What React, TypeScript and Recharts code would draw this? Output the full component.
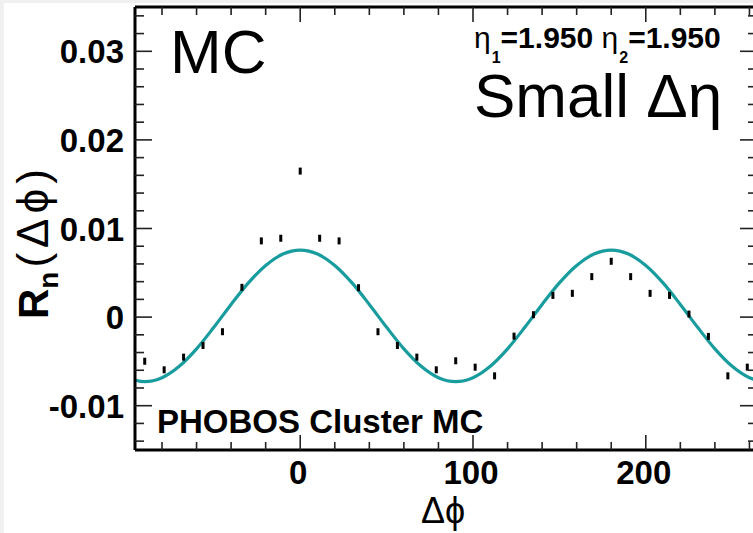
import React from 'react';
import { ComposedChart, Line, Scatter, XAxis, YAxis } from 'recharts';

// MC points (bin centres in degrees)
const pointPhi = [
  -90, -78.75, -67.5, -56.25, -45, -33.75, -22.5, -11.25, 0, 11.25, 22.5, 33.75, 45, 56.25, 67.5, 78.75,
  90, 101.25, 112.5, 123.75, 135, 146.25, 157.5, 168.75, 180, 191.25, 202.5, 213.75, 225, 236.25, 247.5, 258.75,
];
const pointR = [
  -0.00498, -0.00595, -0.00452, -0.0032, -0.00165, 0.00336, 0.0086, 0.0089, 0.01648, 0.0089, 0.0086, 0.00332,
  -0.00165, -0.0032, -0.00452, -0.00595, -0.00493, -0.00565, -0.00663, -0.00215, 0.00027, 0.00245, 0.00268,
  0.00457, 0.0063, 0.00457, 0.00268, 0.00245, 0.00034, -0.00218, -0.00663, -0.00565,
];

// fit curve, read at 10 degree steps
const fitPhi = [
  -100, -90, -80, -70, -60, -50, -40, -30, -20, -10, 0, 10, 20, 30, 40, 50, 60, 70, 80, 90, 100, 110, 120,
  130, 140, 150, 160, 170, 180, 190, 200, 210, 220, 230, 240, 250, 260, 270,
];
const fitR = [
  -0.00684, -0.00729, -0.00684, -0.00555, -0.00358, -0.00115, 0.00143, 0.00386, 0.00583, 0.00712, 0.00757,
  0.00712, 0.00583, 0.00386, 0.00143, -0.00115, -0.00358, -0.00555, -0.00684, -0.00729, -0.00684, -0.00555,
  -0.00358, -0.00115, 0.00143, 0.00386, 0.00583, 0.00712, 0.00757, 0.00712, 0.00583, 0.00386, 0.00143,
  -0.00115, -0.00358, -0.00555, -0.00684, -0.00729,
];

const xTicks = [-80, -60, -40, -20, 0, 20, 40, 60, 80, 100, 120, 140, 160, 180, 200, 220, 240, 260];
const xMajorTicks = [0, 100, 200];
const xTickLabels = ['0', '100', '200'];
const yTicks = [
  -0.014, -0.012, -0.01, -0.008, -0.006, -0.004, -0.002, 0, 0.002, 0.004, 0.006, 0.008, 0.01, 0.012, 0.014,
  0.016, 0.018, 0.02, 0.022, 0.024, 0.026, 0.028, 0.03, 0.032, 0.034,
];
const yMajorTicks = [-0.01, 0, 0.01, 0.02, 0.03];
const yTickLabels = ['-0.01', '0', '0.01', '0.02', '0.03'];

const pointData = pointPhi.map((phi, i) => ({ phi, r: pointR[i] }));
const fitData = fitPhi.map((phi, i) => ({ phi, r: fitR[i] }));

const FONT = '"Liberation Sans", Arial, Helvetica, sans-serif';
const TEAL = '#189c9e';
const xDomain = [-95.625, 264.375];
const yDomain = [-0.015, 0.035];

const makeTick = (side: string, majors: number[], labels: string[]) => (props: any) => {
  const { x, y, payload } = props;
  const idx = majors.findIndex((m) => Math.abs(m - payload.value) < 1e-9);
  const major = idx >= 0;
  const vertical = side === 'left' || side === 'right';
  const len = vertical ? (major ? 17 : 9) : major ? 15 : 8;
  let line;
  if (side === 'left') line = <line x1={x} x2={x + len} y1={y} y2={y} />;
  else if (side === 'right') line = <line x1={x} x2={x - len} y1={y} y2={y} />;
  else if (side === 'bottom') line = <line x1={x} x2={x} y1={y} y2={y - len} />;
  else line = <line x1={x} x2={x} y1={y} y2={y + len} />;
  return (
    <g stroke="#222" strokeWidth={1.6}>
      {line}
      {major && side === 'left' && (
        <text x={x - 11} y={y + 12} textAnchor="end" fontFamily={FONT} fontWeight="bold" fontSize={33} fill="#000" stroke="none">
          {labels[idx]}
        </text>
      )}
      {major && side === 'bottom' && (
        <text x={x - 2} y={y + 34} textAnchor="middle" fontFamily={FONT} fontWeight="bold" fontSize={33} fill="#000" stroke="none">
          {labels[idx]}
        </text>
      )}
    </g>
  );
};

const barShape = (p: any) => <rect x={p.cx - 1.5} y={p.cy - 3.5} width={3} height={7} fill="#000" />;

export default function App() {
  const axisLine = { stroke: '#000', strokeWidth: 3 };
  return (
    <div style={{ position: 'absolute', left: 0, top: 0, width: 753, height: 533, overflow: 'hidden', background: '#f0f0f0' }}>
      <div style={{ position: 'absolute', left: 4, top: 3, right: 0, bottom: 0, background: '#fff' }} />
      <div style={{ position: 'absolute', left: 0, top: 0 }}>
        <ComposedChart width={765} height={533} margin={{ top: 6, right: 7, bottom: 82, left: 134 }}>
          <XAxis xAxisId="bottom" type="number" dataKey="phi" orientation="bottom" height={1} domain={xDomain} allowDataOverflow
            ticks={xTicks} interval={0} tickSize={0} tickMargin={0} tickLine={false} axisLine={axisLine}
            tick={makeTick('bottom', xMajorTicks, xTickLabels)} />
          <XAxis xAxisId="top" type="number" dataKey="phi" orientation="top" height={1} domain={xDomain} allowDataOverflow
            ticks={xTicks} interval={0} tickSize={0} tickMargin={0} tickLine={false} axisLine={axisLine}
            tick={makeTick('top', xMajorTicks, xTickLabels)} />
          <YAxis yAxisId="left" type="number" orientation="left" width={1} domain={yDomain} allowDataOverflow
            ticks={yTicks} interval={0} tickSize={0} tickMargin={0} tickLine={false} axisLine={axisLine}
            tick={makeTick('left', yMajorTicks, yTickLabels)} />
          <YAxis yAxisId="right" type="number" orientation="right" width={1} domain={yDomain} allowDataOverflow
            ticks={yTicks} interval={0} tickSize={0} tickMargin={0} tickLine={false} axisLine={axisLine}
            tick={makeTick('right', yMajorTicks, yTickLabels)} />
          <Line xAxisId="bottom" yAxisId="left" data={fitData} dataKey="r" type="monotone" stroke={TEAL} strokeWidth={3.2}
            dot={false} activeDot={false} isAnimationActive={false} />
          <Scatter xAxisId="bottom" yAxisId="left" data={pointData} dataKey="r" shape={barShape} isAnimationActive={false} />
        </ComposedChart>
      </div>
      <svg width={753} height={533} style={{ position: 'absolute', left: 0, top: 0, pointerEvents: 'none' }} fontFamily={FONT}>
        <text x={170} y={73} fontSize={62}>MC</text>
        <text x={474} y={117} fontSize={62}>Small Δη</text>
        <text x={474} y={48} fontSize={30}>
          <tspan>η</tspan>
          <tspan dy={15} dx={1} fontSize={16} fontWeight="bold">1</tspan>
          <tspan dy={-15} dx={0} fontWeight="bold">=1.950 </tspan>
          <tspan>η</tspan>
          <tspan dy={15} dx={1} fontSize={16} fontWeight="bold">2</tspan>
          <tspan dy={-15} dx={0} fontWeight="bold">=1.950</tspan>
        </text>
        <text x={157} y={433} fontSize={33} fontWeight="bold">PHOBOS Cluster MC</text>
        <text x={443} y={523} fontSize={36} textAnchor="middle">Δϕ</text>
        <text transform="translate(48,319) rotate(-90)" fontSize={42}>
          <tspan fontWeight="bold">R</tspan>
          <tspan dy={10} fontSize={28} fontWeight="bold">n</tspan>
          <tspan dy={-10} dx={4} fontSize={44} letterSpacing={5}>(Δϕ)</tspan>
        </text>
      </svg>
    </div>
  );
}
